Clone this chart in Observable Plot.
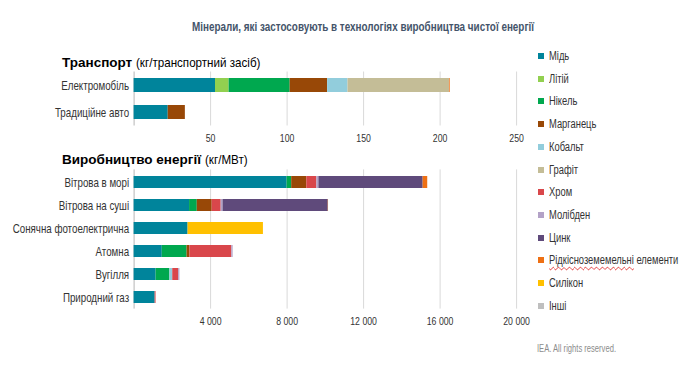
<!DOCTYPE html>
<html>
<head>
<meta charset="utf-8">
<script src="https://cdn.jsdelivr.net/npm/d3@7"></script>
<script src="https://cdn.jsdelivr.net/npm/@observablehq/plot@0.6"></script>
<style>
  html, body { margin: 0; padding: 0; background: #fff; }
  #page { position: relative; width: 693px; height: 373px; overflow: hidden; font-family: "Liberation Sans", Arial, sans-serif; color: #262626; }
  .abs { position: absolute; white-space: nowrap; }
  #title { left: 363px; top: 19px; font-size: 13px; font-weight: bold; color: #44546a; transform: translateX(-50%) scaleX(0.76); transform-origin: 50% 50%; }
  .hdr { left: 62px; font-size: 13.5px; color: #000; }
  .hdr b { font-weight: bold; }
  .hdr .n { display: inline-block; margin-left: 4px; transform: scaleX(0.86); transform-origin: 0 50%; }
  .plot { position: absolute; left: 0; }
  #legend { left: 538px; top: 49px; font-size: 12px; color: #333; }
  .li { position: absolute; left: 0; height: 14px; line-height: 14px; white-space: nowrap; }
  .sw { position: absolute; left: 0; top: 4px; width: 6px; height: 6px; }
  .lt { position: absolute; left: 11px; top: 0; transform: scaleX(0.78); transform-origin: 0 50%; }
  .wavy { text-decoration: underline wavy #e03030; text-decoration-thickness: 1px; text-underline-offset: 2px; }
  #credit { left: 537px; top: 343px; font-size: 10px; color: #8c8c8c; transform: scaleX(0.76); transform-origin: 0 50%; }
</style>
</head>
<body>
<div id="page">
  <div id="title" class="abs">Мінерали, які застосовують в технологіях виробництва чистої енергії</div>
  <div class="abs hdr" style="top:55px"><b>Транспорт</b><span class="n">(кг/транспортний засіб)</span></div>
  <div class="abs hdr" style="top:152px"><b>Виробництво енергії</b><span class="n">(кг/МВт)</span></div>
  <div id="plot1" class="plot" style="top:0px"></div>
  <div id="plot2" class="plot" style="top:150px"></div>
  <div id="legend" class="abs"></div>
  <div id="credit" class="abs">IEA. All rights reserved.</div>
</div>
<script>
// ---- data ----
const minerals = ["Мідь","Літій","Нікель","Марганець","Кобальт","Графіт","Хром","Молібден","Цинк","Рідкісноземемельні елементи","Силікон","Інші"];
const mineralColors = ["#00849b","#92d050","#00a84f","#984807","#92cddc","#c4bd97","#d9474b","#b3a2c7","#5f4a7b","#ee7014","#ffc000","#bfbfbf"];

const transportCats = ["Електромобіль","Традиційне авто"];
const transportTicks = [50, 100, 150, 200, 250];
const electricCar      = [53.2, 8.9, 39.9, 24.5, 13.3, 66.3, 0, 0, 0, 0.5, 0, 0];
const conventionalCar  = [22.3, 0, 0, 11.2, 0, 0, 0, 0, 0, 0, 0, 0];

const energyCats = ["Вітрова в морі","Вітрова на суші","Сонячна фотоелектрична","Атомна","Вугілля","Природний газ"];
const energyTicks = [4000, 8000, 12000, 16000, 20000];
const offshoreWind = [8000, 0, 240, 790, 0, 0, 525, 109, 5450, 239, 0, 0];
const onshoreWind  = [2900, 0, 403, 780, 0, 0, 470, 99, 5500, 14, 0, 0];
const solarPV      = [2822, 0, 0, 0, 0, 0, 0, 0, 0, 0, 3940, 0];
const nuclear      = [1473, 0, 1297, 148, 0, 0, 2190, 70, 0, 0, 0, 0];
const coal         = [1150, 0, 721, 0, 150, 0, 308, 66, 0, 0, 0, 0];
const naturalGas   = [1100, 0, 0, 0, 0, 0, 48, 0, 0, 0, 0, 0];

// ---- build tidy tables ----
function tidy(cats, rows) {
  const out = [];
  cats.forEach((c, i) => rows[i].forEach((v, j) => { if (v > 0) out.push({cat: c, mineral: minerals[j], value: v}); }));
  return out;
}
const transportData = tidy(transportCats, [electricCar, conventionalCar]);
const energyData = tidy(energyCats, [offshoreWind, onshoreWind, solarPV, nuclear, coal, naturalGas]);

const FONT = '"Liberation Sans", Arial, sans-serif';
const W = 545, X0 = 133.6, X1 = 516.1;
const spaceFmt = d => d3.format(",")(d).replace(/,/g, " ");

function condense(svg, label, sx) {
  svg.querySelectorAll(`g[aria-label="${label}"] text`).forEach(t => {
    let tr = t.getAttribute("transform");
    if (!tr) {
      const x = +t.getAttribute("x") || 0, y = +t.getAttribute("y") || 0;
      t.removeAttribute("x"); t.removeAttribute("y");
      tr = `translate(${x},${y})`;
    }
    t.setAttribute("transform", tr + ` scale(${sx},1)`);
  });
}

function makePlot(data, cats, domainMax, ticks, fmt, h, mt, mb, pi, po) {
  const svg = Plot.plot({
    width: W, height: h,
    marginLeft: X0, marginRight: W - X1, marginTop: mt, marginBottom: mb,
    style: { fontFamily: FONT, fontSize: "12px", color: "#333", background: "transparent" },
    x: { domain: [0, domainMax] },
    y: { domain: cats, paddingInner: pi, paddingOuter: po },
    color: { domain: minerals, range: mineralColors },
    marks: [
      Plot.gridX(ticks, { stroke: "#d9d9d9", strokeOpacity: 1, strokeWidth: 1 }),
      Plot.ruleX([0], { stroke: "#b5b5b5", strokeWidth: 1 }),
      Plot.barX(data, Plot.stackX({ x: "value", y: "cat", fill: "mineral", order: null })),
      Plot.axisX({ ticks, tickFormat: fmt, tickSize: 0, tickPadding: 8, label: null, fontSize: 11.5 }),
      Plot.axisY({ tickSize: 0, tickPadding: 5, label: null, fontSize: 12.5 })
    ]
  });
  condense(svg, "x-axis tick label", 0.76);
  condense(svg, "y-axis tick label", 0.78);
  return svg;
}

document.getElementById("plot1").append(
  makePlot(transportData, transportCats, 250, transportTicks, d => String(d), 150, 71.5, 24.5, 0.48, 0.24)
);
document.getElementById("plot2").append(
  makePlot(energyData, energyCats, 20000, energyTicks, spaceFmt, 190, 19.4, 31.4, 0.483, 0.2415)
);

// ---- legend ----
const legend = document.getElementById("legend");
minerals.forEach((m, i) => {
  const d = document.createElement("div");
  d.className = "li";
  d.style.top = (i * 22.7) + "px";
  const sw = document.createElement("span");
  sw.className = "sw";
  sw.style.background = mineralColors[i];
  const t = document.createElement("span");
  t.className = "lt";
  if (m.startsWith("Рідкісно")) {
    const parts = m.split(" ");
    const w1 = document.createElement("span");
    w1.className = "wavy";
    w1.textContent = parts[0];
    t.append(w1, document.createTextNode(" " + parts.slice(1).join(" ")));
  } else {
    t.textContent = m;
  }
  d.append(sw, t);
  legend.append(d);
});
</script>
</body>
</html>
